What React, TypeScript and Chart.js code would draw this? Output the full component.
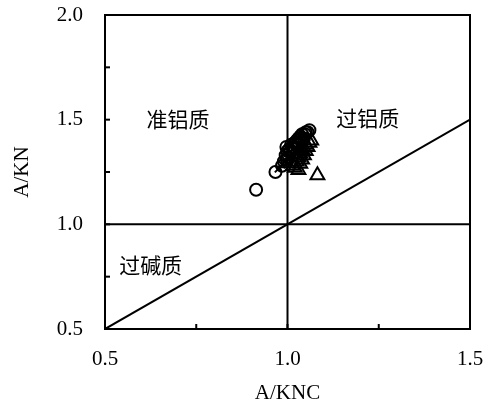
import React, { useEffect, useRef } from "react";
import { Chart, registerables } from "chart.js";
Chart.register(...registerables);

const xTickValues = [0.5, 1.0, 1.5];
const yTickValues = [0.5, 1.0, 1.5, 2.0];

const circleX = [0.914, 0.967, 0.985, 0.99, 0.995, 1.0, 0.997, 1.005, 1.01, 1.02, 1.025, 1.03, 1.035, 1.04, 1.05, 1.06, 1.015, 1.02, 1.03, 1.04, 1.045, 1.0, 1.01, 1.008, 1.018, 1.028, 1.038, 1.048, 1.055, 0.998];
const circleY = [1.165, 1.25, 1.28, 1.3, 1.33, 1.35, 1.37, 1.36, 1.38, 1.39, 1.4, 1.41, 1.42, 1.43, 1.44, 1.45, 1.34, 1.36, 1.38, 1.4, 1.41, 1.32, 1.3, 1.35, 1.37, 1.39, 1.41, 1.43, 1.44, 1.31];

const triX = [1.082, 1.03, 1.02, 1.035, 1.04, 1.045, 1.05, 1.055, 1.06, 1.065, 1.025, 1.03, 1.035, 1.015, 1.04, 1.05];
const triY = [1.235, 1.26, 1.27, 1.29, 1.31, 1.33, 1.35, 1.37, 1.39, 1.4, 1.3, 1.32, 1.34, 1.28, 1.36, 1.38];

const crossX = [0.975, 0.985, 0.995, 1.005];
const crossY = [1.265, 1.285, 1.305, 1.315];

const refVertical = [[1, 0.5], [1, 2.0]];
const refHorizontal = [[0.5, 1], [1.5, 1]];
const refDiagonal = [[0.5, 0.5], [1.5, 1.5]];

const regionLabels = ["准铝质", "过铝质", "过碱质"];
const regionX = [0.7, 1.22, 0.625];
const regionY = [1.505, 1.51, 0.808];

const toPts = (xs: number[], ys: number[]) => xs.map((x, i) => ({ x, y: ys[i] }));
const pairPts = (arr: number[][]) => arr.map(([x, y]) => ({ x, y }));

export default function App() {
  const ref = useRef<HTMLCanvasElement | null>(null);
  useEffect(() => {
    if (!ref.current) return;
    const lineDs = (data: any) => ({
      type: "line" as const,
      data,
      showLine: true,
      borderColor: "#000",
      borderWidth: 2,
      pointRadius: 0,
      fill: false,
    });
    const decor = {
      id: "decor",
      afterDraw(chart: any) {
        const ctx = chart.ctx;
        const { left, right, top, bottom } = chart.chartArea;
        const xs = chart.scales.x;
        const ys = chart.scales.y;
        ctx.save();
        ctx.strokeStyle = "#000";
        ctx.lineWidth = 2;
        ctx.strokeRect(left, top, right - left, bottom - top);
        for (const t of xs.ticks) {
          const px = xs.getPixelForValue(t.value);
          ctx.beginPath();
          ctx.moveTo(px, bottom);
          ctx.lineTo(px, bottom - 5);
          ctx.stroke();
        }
        for (const t of ys.ticks) {
          const py = ys.getPixelForValue(t.value);
          ctx.beginPath();
          ctx.moveTo(left, py);
          ctx.lineTo(left + 5, py);
          ctx.stroke();
        }
        ctx.fillStyle = "#000";
        ctx.font = '21px "Noto Sans CJK SC"';
        ctx.textAlign = "center";
        ctx.textBaseline = "middle";
        regionLabels.forEach((s, i) => {
          ctx.fillText(s, xs.getPixelForValue(regionX[i]), ys.getPixelForValue(regionY[i]));
        });
        ctx.restore();
      },
    };
    const serif = { family: '"Liberation Serif", "Times New Roman", serif', size: 21 };
    const chart = new Chart(ref.current, {
      type: "scatter",
      data: {
        datasets: [
          lineDs(pairPts(refVertical)),
          lineDs(pairPts(refHorizontal)),
          lineDs(pairPts(refDiagonal)),
          {
            data: toPts(circleX, circleY),
            pointStyle: "circle",
            pointRadius: 6,
            borderColor: "#000",
            backgroundColor: "rgba(255,255,255,0)",
            borderWidth: 2,
          },
          {
            data: toPts(triX, triY),
            pointStyle: "triangle",
            pointRadius: 8,
            borderColor: "#000",
            backgroundColor: "rgba(255,255,255,0)",
            borderWidth: 2,
          },
          {
            data: toPts(crossX, crossY),
            pointStyle: "crossRot",
            pointRadius: 5,
            borderColor: "#000",
            borderWidth: 2,
          },
        ] as any,
      },
      options: {
        animation: false,
        responsive: false,
        layout: { padding: { top: 15, right: 28, left: 0, bottom: 0 } },
        plugins: { legend: { display: false }, tooltip: { enabled: false } },
        scales: {
          x: {
            type: "linear",
            min: 0.5,
            max: 1.5,
            grid: { display: false, drawTicks: false },
            border: { display: false },
            ticks: {
              stepSize: 0.25,
              padding: 18,
              color: "#000",
              font: serif,
              maxRotation: 0,
              autoSkip: false,
              callback: (v: any) => (xTickValues.some((t) => Math.abs(t - v) < 1e-6) ? Number(v).toFixed(1) : ""),
            },
            title: { display: true, text: "A/KNC", color: "#000", font: serif, padding: { top: 0, bottom: 0 } },
            afterFit: (s: any) => { s.height = 77; s.paddingLeft = 0; s.paddingRight = 0; },
          },
          y: {
            type: "linear",
            min: 0.5,
            max: 2.0,
            grid: { display: false, drawTicks: false },
            border: { display: false },
            ticks: {
              stepSize: 0.25,
              padding: 22,
              color: "#000",
              font: serif,
              autoSkip: false,
              callback: (v: any) => (yTickValues.some((t) => Math.abs(t - v) < 1e-6) ? Number(v).toFixed(1) : ""),
            },
            title: { display: true, text: "A/KN", color: "#000", font: serif, padding: { top: 10, bottom: 0 } },
            afterFit: (s: any) => { s.width = 105; s.paddingTop = 0; s.paddingBottom = 0; },
          },
        },
      },
      plugins: [decor],
    });
    return () => chart.destroy();
  }, []);
  return (
    <div style={{ position: "fixed", left: 0, top: 0, width: 498, height: 406, background: "#fff" }}>
      <canvas ref={ref} width={498} height={406} style={{ display: "block" }} />
    </div>
  );
}
